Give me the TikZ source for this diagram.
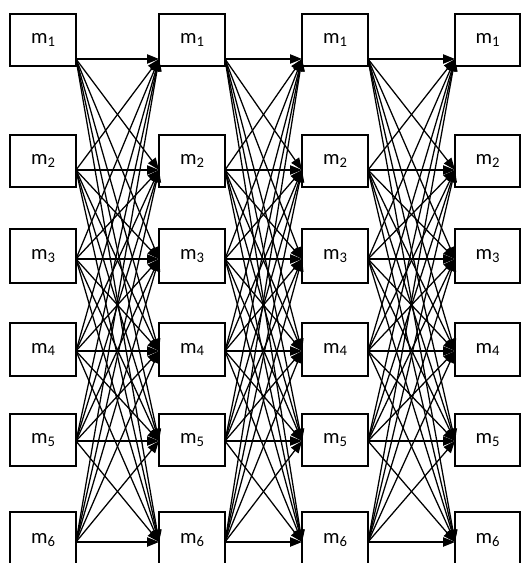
\documentclass[tikz,border=0pt]{standalone}
\usepackage{fontspec}
\setmainfont{Carlito}
\usetikzlibrary{arrows.meta}
\newcommand\msub[1]{m\raisebox{-0.12em}{\fontsize{11}{11}\selectfont #1}}
\begin{document}
\begin{tikzpicture}[x=0.75pt,y=-0.75pt,
  box/.style={draw=black, line width=1pt, fill=white, inner sep=0pt, text=black,
    font=\fontsize{15.5}{15.5}\selectfont},
  conn/.style={black, line width=0.95pt, -{Triangle[length=9pt,width=7pt]}}]
\useasboundingbox (0,0) rectangle (521,563);
\begin{scope}
\clip (0,0) rectangle (521,563);
\foreach \c/\l/\r in {1/10/76,2/159/225,3/302/368,4/455/520}{
  \foreach \rr/\t/\b/\a in {1/14/66/59,2/135/187/170,3/229/283/259,4/323/376/351,5/414/466/441,6/512/568/542}{
    \pgfmathsetmacro\bw{(\r-\l)*0.75}
    \pgfmathsetmacro\bh{(\b-\t)*0.75}
    \node[box, minimum width=\bw pt, minimum height=\bh pt] (b\c-\rr) at ({(\l+\r)/2},{(\t+\b)/2}) {\msub{\rr}};
    \coordinate (o\c-\rr) at (\r,\a);
    \coordinate (i\c-\rr) at (\l,\a);
  }
}
\foreach \c/\d in {1/2,2/3,3/4}{
  \foreach \i in {1,...,6}{
    \foreach \j in {1,...,6}{
      \draw[conn] (o\c-\i) -- (i\d-\j);
    }
  }
}
\end{scope}
\end{tikzpicture}
\end{document}
